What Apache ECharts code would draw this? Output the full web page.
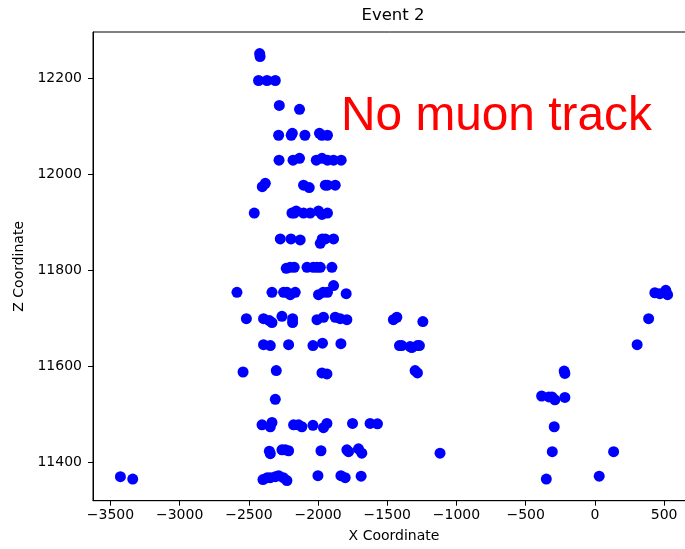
<!DOCTYPE html>
<html>
<head>
<meta charset="utf-8">
<script src="https://cdn.jsdelivr.net/npm/echarts@6/dist/echarts.min.js"></script>
<style>
html,body{margin:0;padding:0;background:#fff;}
#chart{width:685px;height:549px;}
</style>
</head>
<body>
<div id="chart"></div>
<script>
// Hit positions (X, Z)
const xValues = [
  -2422,-2419,-2430,-2369,-2309,-2280,-2134,
  -2285,-2194,-2186,-2095,-1990,-1972,-1932,
  -2282,-2181,-2134,-2013,-1972,-1932,-1888,-1833,
  -2403,-2381,-2105,-2064,-1948,-1932,-1876,
  -2461,-2189,-2172,-2158,-2105,-2057,-1997,-1972,-1932,
  -2273,-2196,-2129,-1984,-1970,-1948,-1888,
  -2230,-2201,-2172,-2080,-2035,-2008,-1984,-1900,
  -2586,-2333,-2249,-2225,-2201,-2165,-1997,-1963,-1932,-1888,-1797,
  -2518,-2394,-2352,-2333,-2261,-2184,-2184,-2008,-1961,-1876,-1840,-1792,
  -2394,-2345,-2213,-2037,-1968,-1835,
  -2542,-2302,-1972,-1936,-2309,
  -2405,-2345,-2333,-2177,-2141,-2117,-2037,-1961,-1936,-1751,-1624,-1571,
  -2352,-2345,-2261,-2237,-2213,-1979,-1792,-1780,-1708,-1684,-1119,
  -3428,-3339,-2398,-2367,-2345,-2309,-2285,-2251,-2225,-2001,-1835,-1804,-1689,
  -1456,-1431,-1243,-1412,-1395,-1335,-1323,-1282,-1268,-1299,-1282,
  -385,-332,-310,-289,-217,-217,-222,-294,-308,-351,31,135,
  305,388,433,469,512,525
];
const zValues = [
  12251,12245,12195,12195,12195,12143,12135,
  12081,12081,12085,12081,12085,12081,12081,
  12029,12029,12033,12029,12033,12029,12029,12029,
  11974,11981,11977,11972,11977,11977,11977,
  11919,11919,11919,11923,11919,11919,11923,11916,11919,
  11865,11865,11863,11856,11865,11865,11865,
  11804,11806,11806,11806,11806,11806,11806,11806,
  11754,11754,11754,11754,11749,11754,11749,11754,11754,11768,11751,
  11699,11699,11695,11691,11704,11691,11699,11697,11702,11702,11699,11697,
  11645,11643,11645,11643,11648,11647,
  11588,11591,11586,11584,11531,
  11478,11474,11483,11478,11478,11474,11477,11472,11481,11481,11481,11480,
  11423,11418,11426,11426,11424,11424,11426,11422,11428,11419,11419,
  11370,11365,11364,11368,11368,11370,11372,11368,11362,11372,11372,11368,11371,
  11697,11702,11693,11643,11643,11641,11639,11643,11643,11591,11586,
  11538,11536,11536,11530,11535,11585,11590,11474,11422,11365,11371,11422,
  11645,11699,11753,11751,11758,11749
];
const xTicks = [-3500,-3000,-2500,-2000,-1500,-1000,-500,0,500];
const zTicks = [11400,11600,11800,12000,12200];
const titleText = 'Event 2';
const xName = 'X Coordinate';
const zName = 'Z Coordinate';
const noteText = 'No muon track';

const points = xValues.map((x, i) => [x, zValues[i]]);
const fmt = v => String(v).replace('-', '\u2212');
const font = 'DejaVu Sans';

const chart = echarts.init(document.getElementById('chart'), null, {renderer: 'canvas'});
chart.setOption({
  animation: false,
  backgroundColor: '#fff',
  grid: {left: 93, top: 32, bottom: 48.3, right: -10, outerBoundsMode: 'none', containLabel: false,
         show: true, borderColor: '#000', borderWidth: 1, backgroundColor: 'transparent'},
  xAxis: {
    type: 'value', min: -3626, max: 723,
    name: xName, nameLocation: 'middle', nameGap: 29,
    nameTextStyle: {fontFamily: font, fontSize: 14, color: '#000'},
    axisLine: {show: true, onZero: false, lineStyle: {color: '#000', width: 1}},
    axisTick: {show: true, length: 5, inside: false, customValues: xTicks, lineStyle: {color: '#000'}},
    axisLabel: {customValues: xTicks, formatter: fmt, fontFamily: font, fontSize: 14, color: '#000', margin: 8},
    splitLine: {show: false}
  },
  yAxis: {
    type: 'value', min: 11320, max: 12296,
    name: zName, nameLocation: 'middle', nameGap: 64,
    nameTextStyle: {fontFamily: font, fontSize: 14, color: '#000'},
    axisLine: {show: true, onZero: false, lineStyle: {color: '#000', width: 1}},
    axisTick: {show: true, length: 5, inside: false, customValues: zTicks, lineStyle: {color: '#000'}},
    axisLabel: {customValues: zTicks, formatter: fmt, fontFamily: font, fontSize: 14, color: '#000', margin: 11},
    splitLine: {show: false}
  },
  series: [{
    type: 'scatter',
    data: points,
    symbol: 'circle',
    symbolSize: 11,
    itemStyle: {color: '#0000ff', opacity: 1},
    silent: true
  }],
  graphic: [
    {type: 'text', x: 393, y: 15.5, style: {text: titleText, font: '16.5px "DejaVu Sans"', fill: '#000', textAlign: 'center', textVerticalAlign: 'middle'}},
    {type: 'text', x: 341, y: 116.5, z: 10, style: {text: noteText, font: '47.8px "Liberation Sans"', fill: '#ff0000', textAlign: 'left', textVerticalAlign: 'middle'}}
  ]
});
</script>
</body>
</html>
